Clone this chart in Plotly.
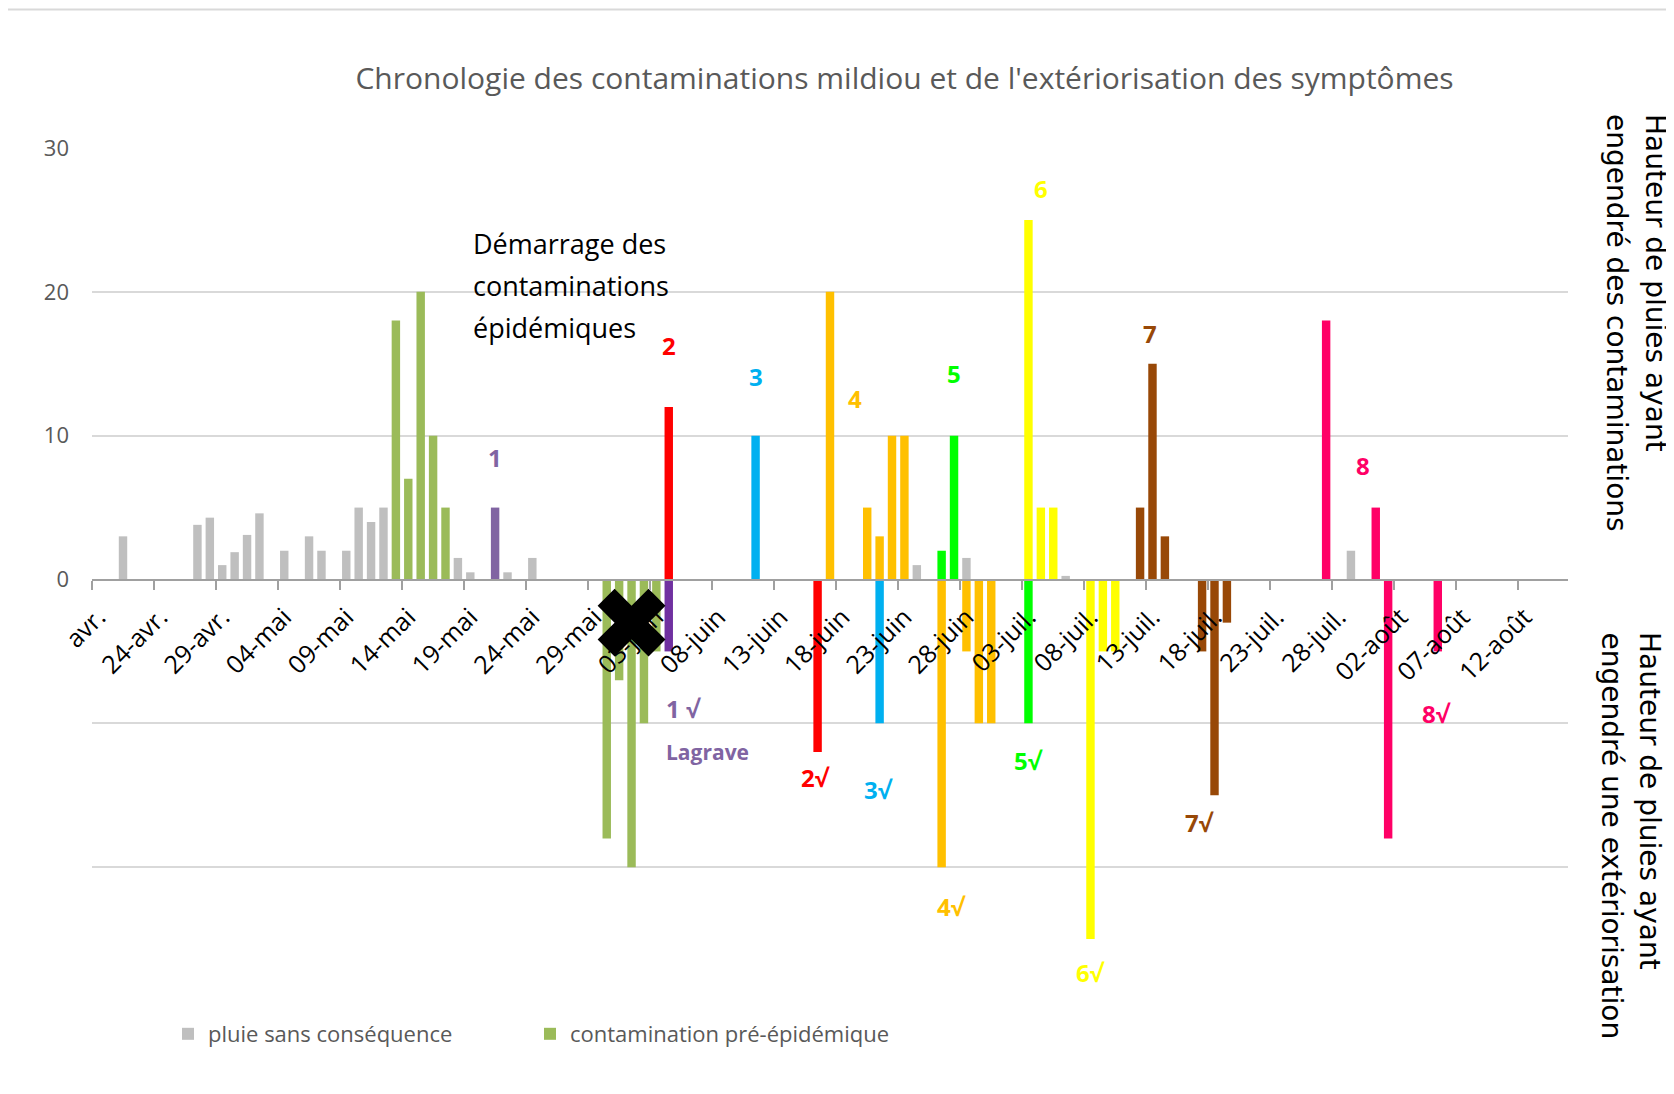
import plotly.graph_objects as go
import pandas as pd

YEAR = 2019

# ---------------- data ----------------
gray_dates = ["04-21", "04-27", "04-28", "04-29", "04-30", "05-01", "05-02", "05-04", "05-06",
              "05-07", "05-09", "05-10", "05-11", "05-12", "05-18", "05-19", "05-22", "05-24",
              "06-24", "06-28", "07-06", "07-29"]
gray_vals = [3, 3.8, 4.3, 1, 1.9, 3.1, 4.6, 2, 3, 2, 2, 5, 4, 5, 1.5, 0.5, 0.5, 1.5, 1, 1.5, 0.25, 2]

green_dates = ["05-13", "05-14", "05-15", "05-16", "05-17", "05-30", "05-31", "06-01", "06-02", "06-03"]
green_vals = [18, 7, 20, 10, 5, -18, -7, -20, -10, -5]

c1_dates = ["05-21", "06-04"]
c1_vals = [5, -5]
c2_dates = ["06-04", "06-16"]
c2_vals = [12, -12]
c3_dates = ["06-11", "06-21"]
c3_vals = [10, -10]
c4_dates = ["06-17", "06-20", "06-21", "06-22", "06-23", "06-26", "06-28", "06-29", "06-30"]
c4_vals = [20, 5, 3, 10, 10, -20, -5, -10, -10]
c5_dates = ["06-26", "06-27", "07-03"]
c5_vals = [2, 10, -10]
c6_dates = ["07-03", "07-04", "07-05", "07-08", "07-09", "07-10"]
c6_vals = [25, 5, 5, -25, -5, -5]
c7_dates = ["07-12", "07-13", "07-14", "07-17", "07-18", "07-19"]
c7_vals = [5, 15, 3, -5, -15, -3]
c8_dates = ["07-27", "07-31", "08-01", "08-05"]
c8_vals = [18, 5, -18, -5]

tick_dates = ["04-19", "04-24", "04-29", "05-04", "05-09", "05-14", "05-19", "05-24", "05-29",
              "06-03", "06-08", "06-13", "06-18", "06-23", "06-28", "07-03", "07-08", "07-13",
              "07-18", "07-23", "07-28", "08-02", "08-07", "08-12"]
tick_text = ["avr.", "24-avr.", "29-avr.", "04-mai", "09-mai", "14-mai", "19-mai", "24-mai", "29-mai",
             "03-juin", "08-juin", "13-juin", "18-juin", "23-juin", "28-juin", "03-juil.", "08-juil.",
             "13-juil.", "18-juil.", "23-juil.", "28-juil.", "02-août", "07-août", "12-août"]

cross_date = "06-01"
cross_val = -3

# labels: (text, date, value, color, anchor, size)
num_labels = [
    ("1", "05-21", 8.5, "#8064A2", "center", 24),
    ("2", "06-04", 16.3, "#FF0000", "center", 24),
    ("3", "06-11", 14.1, "#00B0F0", "center", 24),
    ("4", "06-19", 12.6, "#FFC000", "center", 24),
    ("5", "06-27", 14.3, "#00FF00", "center", 24),
    ("6", "07-04", 27.2, "#FFFF00", "center", 24),
    ("7", "07-12 19:00", 17.1, "#984807", "center", 24),
    ("8", "07-30", 7.9, "#FF0066", "center", 24),
    ("1 √", "06-03 14:00", -9.0, "#8064A2", "left", 24),
    ("Lagrave", "06-03 14:00", -12.0, "#8064A2", "left", 21),
    ("2√", "06-15 19:00", -13.8, "#FF0000", "center", 24),
    ("3√", "06-20 22:00", -14.6, "#00B0F0", "center", 24),
    ("4√", "06-26 19:00", -22.7, "#FFC000", "center", 24),
    ("5√", "07-03", -12.6, "#00FF00", "center", 24),
    ("6√", "07-08", -27.3, "#FFFF00", "center", 24),
    ("7√", "07-16 19:00", -16.9, "#984807", "center", 24),
    ("8√", "08-04 22:00", -9.3, "#FF0066", "center", 24),
]

# ---------------- layout geometry ----------------
# page body has an 8px margin: figure drawn from (8, 8)
OX, OY = 8, 8
FW, FH = 1674 - OX, 1094 - OY
ML, MR, MT, MB = 92 - OX, 106, 148 - OY, 83
PW = FW - ML - MR
PH = FH - MT - MB


def paper(xp, yp):
    """window pixel -> paper fraction"""
    return (xp - OX - ML) / PW, (OY + FH - MB - yp) / PH


def d(s):
    return f"{YEAR}-{s}"


BARW = 0.68 * 86400000
FONT = "Open Sans, Noto Sans, sans-serif"

fig = go.Figure()


def add_bars(dates, vals, colors, name=None, legend=False):
    fig.add_trace(go.Bar(
        x=[d(s) for s in dates], y=vals, width=BARW, name=name,
        marker=dict(color=colors, line=dict(width=0)),
        showlegend=legend, hoverinfo="x+y",
    ))


add_bars(gray_dates, gray_vals, "#BFBFBF", "pluie sans conséquence", True)
add_bars(green_dates, green_vals, "#9BBB59", "contamination pré-épidémique", True)
add_bars(c1_dates, c1_vals, ["#8064A2", "#7030A0"])
add_bars(c2_dates, c2_vals, "#FF0000")
add_bars(c3_dates, c3_vals, "#00B0F0")
add_bars(c4_dates, c4_vals, "#FFC000")
add_bars(c5_dates, c5_vals, "#00FF00")
add_bars(c6_dates, c6_vals, "#FFFF00")
add_bars(c7_dates, c7_vals, "#984807")
add_bars(c8_dates, c8_vals, "#FF0066")

fig.add_trace(go.Scatter(
    x=[d(cross_date)], y=[cross_val], mode="markers", showlegend=False,
    marker=dict(symbol="x", size=60, color="black", line=dict(width=0)),
))

minor_ticks = [(pd.Timestamp(d(t)) - pd.Timedelta(hours=12)).strftime("%Y-%m-%d %H:%M") for t in tick_dates]

fig.update_layout(
    width=FW, height=FH,
    margin=dict(l=ML, r=MR, t=MT, b=MB, pad=0),
    paper_bgcolor="white", plot_bgcolor="white",
    barmode="overlay",
    font=dict(family=FONT, color="#595959"),
    title=dict(
        text="Chronologie des contaminations mildiou et de l'extériorisation des symptômes",
        x=(904.5 - OX) / FW, xanchor="center", xref="container",
        y=1 - (78 - OY) / FH, yanchor="middle", yref="container",
        font=dict(family=FONT, size=30, color="#595959"),
    ),
    xaxis=dict(
        type="date",
        range=[d("04-18 12:00"), d("08-15 12:00")],
        anchor="free", position=0.5,
        tickmode="array", tickvals=[d(t) for t in tick_dates], ticktext=tick_text,
        tickangle=-45, ticks="", ticklabelstandoff=12,
        tickfont=dict(family=FONT, size=25, color="#000000"),
        showline=True, linecolor="#A0A0A0", linewidth=2,
        showgrid=False, zeroline=False,
        minor=dict(tickmode="array", tickvals=minor_ticks, ticks="outside", ticklen=9,
                   tickwidth=2, tickcolor="#A0A0A0", showgrid=False),
    ),
    yaxis=dict(
        range=[-30, 30],
        tickmode="array", tickvals=[-30, -20, -10, 0, 10, 20, 30],
        ticktext=["", "", "", "0", "10", "20", "30"],
        ticks="", ticklabelstandoff=22,
        tickfont=dict(family=FONT, size=22, color="#595959"),
        showgrid=True, gridcolor="#D9D9D9", gridwidth=2,
        zeroline=False, showline=False,
    ),
    legend=dict(
        orientation="h", x=paper(168, 0)[0], xanchor="left",
        y=paper(0, 1034)[1], yanchor="middle",
        font=dict(family=FONT, size=22, color="#595959"),
        entrywidth=317, entrywidthmode="pixels",
        bgcolor="rgba(0,0,0,0)",
    ),
)

annotations = []
for text, date, val, color, anchor, size in num_labels:
    annotations.append(dict(
        x=d(date), y=val, xref="x", yref="y", text=f"<b>{text}</b>", showarrow=False,
        xanchor=anchor, yanchor="middle",
        font=dict(family=FONT, size=size, color=color),
    ))

for txt, ypix in [("Démarrage des", 243), ("contaminations", 285), ("épidémiques", 327)]:
    px_, py_ = paper(471, ypix)
    annotations.append(dict(
        x=px_, y=py_, xref="paper", yref="paper", text=txt, showarrow=False,
        xanchor="left", yanchor="middle",
        font=dict(family=FONT, size=27, color="#000000"),
    ))

RFONT = "DejaVu Sans, sans-serif"
for txt, xpix, ypix in [("Hauteur de pluies ayant", 1655, 112),
                        ("engendré des contaminations", 1616, 112),
                        ("Hauteur de pluies ayant", 1650, 630),
                        ("engendré une extériorisation", 1611, 630)]:
    px_, py_ = paper(xpix, ypix)
    annotations.append(dict(
        x=px_, y=py_, xref="paper", yref="paper", text=txt, showarrow=False,
        textangle=90, xanchor="center", yanchor="top",
        font=dict(family=RFONT, size=28, color="#000000"),
    ))

fig.update_layout(annotations=annotations)

# light frame line along the top of the chart
x0, ytop = paper(OX, OY + 1.5)
x1, _ = paper(1674, OY + 1.5)
fig.add_shape(type="line", xref="paper", yref="paper", x0=x0, x1=x1, y0=ytop, y1=ytop,
              line=dict(color="#D9D9D9", width=2))

fig.write_html("out.html")
